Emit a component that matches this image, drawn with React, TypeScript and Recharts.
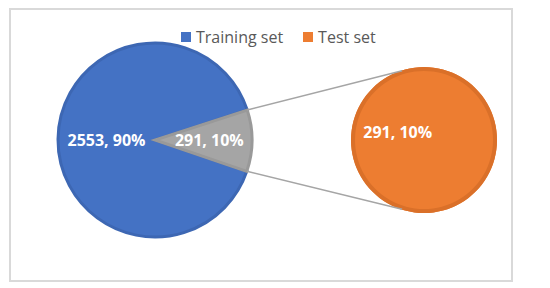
import React from "react";
import { PieChart, Pie, Cell } from "recharts";

const categories = ["Training set", "Test set"];
const counts = [2553, 291];
const percents = [90, 10];

const mainColors = ["#4472C4", "#A5A5A5"];
const mainStrokes = ["#3D67B3", "#999999"];
const legendColors = ["#4472C4", "#ED7D31"];

const mainData = categories.map((name, i) => ({ name, value: counts[i], pct: percents[i] }));
const subData = [{ name: categories[1], value: counts[1], pct: percents[1] }];

// layout
const MAIN_CX = 155;
const MAIN_CY = 140;
const MAIN_R = 97;
const SUB_CX = 424;
const SUB_CY = 140;
const SUB_R = 73;
const RAD = Math.PI / 180;

const labelStyle = {
  fill: "#ffffff",
  fontSize: 16,
  fontWeight: 700,
  fontFamily: "'Open Sans', sans-serif",
};

const renderMainLabel = (props: any) => {
  const { cx, cy, midAngle, outerRadius, startAngle, endAngle, index, payload } = props;
  const k = index === 0 ? 0.5 : 0.56;
  const x = cx + outerRadius * k * Math.cos(-midAngle * RAD);
  const y = cy + outerRadius * k * Math.sin(-midAngle * RAD);
  const text = `${payload.value}, ${payload.pct}%`;
  if (index === 0) {
    return (
      <text x={x} y={y} textAnchor="middle" dominantBaseline="central" style={labelStyle}>
        {text}
      </text>
    );
  }
  // connector lines from the "other" slice to the secondary pie
  const a1 = startAngle * RAD;
  const a2 = endAngle * RAD;
  const p1 = { x: cx + outerRadius * Math.cos(-a1), y: cy + outerRadius * Math.sin(-a1) };
  const p2 = { x: cx + outerRadius * Math.cos(-a2), y: cy + outerRadius * Math.sin(-a2) };
  const t = 0.95;
  const q1 = { x: SUB_CX - SUB_R * 0.3, y: SUB_CY + SUB_R * t };
  const q2 = { x: SUB_CX - SUB_R * 0.3, y: SUB_CY - SUB_R * t };
  return (
    <g>
      <line x1={p1.x} y1={p1.y} x2={q1.x} y2={q1.y} stroke="#A5A5A5" strokeWidth={1.5} />
      <line x1={p2.x} y1={p2.y} x2={q2.x} y2={q2.y} stroke="#A5A5A5" strokeWidth={1.5} />
      <text x={x} y={y} textAnchor="middle" dominantBaseline="central" style={labelStyle}>
        {text}
      </text>
    </g>
  );
};

const renderSubLabel = (props: any) => {
  const { cx, cy, outerRadius, payload } = props;
  const x = cx - outerRadius * 0.36;
  const y = cy - 8;
  return (
    <text x={x} y={y} textAnchor="middle" dominantBaseline="central" style={labelStyle}>
      {`${payload.value}, ${payload.pct}%`}
    </text>
  );
};

export default function App() {
  return (
    <div style={{ position: "absolute", left: 0, top: 0, width: 550, height: 288, background: "#fff" }}>
      <div
        style={{
          position: "absolute",
          left: 9,
          top: 8,
          width: 500,
          height: 270,
          border: "2px solid #d9d9d9",
        }}
      />
      <div
        style={{
          position: "absolute",
          left: 181,
          top: 26,
          height: 22,
          display: "flex",
          alignItems: "center",
          gap: 20,
          fontFamily: "'Open Sans', sans-serif",
          fontSize: 16,
          color: "#595959",
          whiteSpace: "nowrap",
        }}
      >
        {categories.map((c, i) => (
          <div key={c} style={{ display: "flex", alignItems: "center" }}>
            <span
              style={{ width: 10, height: 10, background: legendColors[i], display: "inline-block", marginRight: 5 }}
            />
            <span>{c}</span>
          </div>
        ))}
      </div>
      <div style={{ position: "absolute", left: 0, top: 0 }}>
        <PieChart width={550} height={288} margin={{ top: 0, right: 0, bottom: 0, left: 0 }}>
          <Pie
            data={mainData}
            dataKey="value"
            cx={MAIN_CX}
            cy={MAIN_CY}
            outerRadius={MAIN_R}
            startAngle={18}
            endAngle={378}
            label={renderMainLabel}
            labelLine={false}
            isAnimationActive={false}
          >
            {mainData.map((d, i) => (
              <Cell key={d.name} fill={mainColors[i]} stroke={mainStrokes[i]} strokeWidth={3} />
            ))}
          </Pie>
          <Pie
            data={subData}
            dataKey="value"
            cx={SUB_CX}
            cy={SUB_CY}
            outerRadius={SUB_R}
            startAngle={0}
            endAngle={360}
            label={renderSubLabel}
            labelLine={false}
            isAnimationActive={false}
          >
            {subData.map((d) => (
              <Cell key={d.name} fill="#ED7D31" stroke="none" />
            ))}
          </Pie>
          <Pie
            data={subData}
            dataKey="value"
            cx={SUB_CX}
            cy={SUB_CY}
            innerRadius={SUB_R - 4}
            outerRadius={SUB_R}
            startAngle={0}
            endAngle={360}
            isAnimationActive={false}
          >
            {subData.map((d) => (
              <Cell key={d.name} fill="#DA7029" stroke="none" />
            ))}
          </Pie>
        </PieChart>
      </div>
    </div>
  );
}
